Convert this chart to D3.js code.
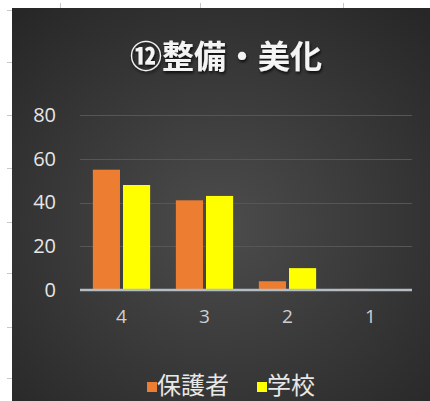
<!DOCTYPE html>
<html><head><meta charset="utf-8">
<script src="https://cdn.jsdelivr.net/npm/d3@7"></script>
<style>html,body{margin:0;padding:0;background:#fff;}svg{display:block;}</style>
</head><body>
<script>
const categories = ["4", "3", "2", "1"];
const seriesNames = ["保護者", "学校"];
const parents = [55, 41, 4, 0.5];
const school = [48, 43, 10, 0];
const yTicks = [0, 20, 40, 60, 80];
const titleText = "⑫整備・美化";
const colors = ["#ED7D31", "#FFFF00"];

const W = 430, H = 401;
const svg = d3.select("body").append("svg").attr("width", W).attr("height", H);
const defs = svg.append("defs");
const rg = defs.append("radialGradient").attr("id", "bg").attr("cx", "50%").attr("cy", "55%").attr("r", "72%");
rg.append("stop").attr("offset", "0%").attr("stop-color", "#4c4c4c");
rg.append("stop").attr("offset", "100%").attr("stop-color", "#272727");
const sh = defs.append("filter").attr("id", "sh").attr("x", "-10%").attr("y", "-20%").attr("width", "120%").attr("height", "150%");
sh.append("feDropShadow").attr("dx", 1).attr("dy", 2).attr("stdDeviation", 1.5).attr("flood-color", "#000").attr("flood-opacity", 0.8);

// spreadsheet cell tick marks
const g0 = svg.append("g").attr("stroke", "#c8c8c8").attr("stroke-width", 1);
[10, 62, 115, 168, 222, 273, 327, 378].forEach(y => g0.append("line").attr("x1", 7).attr("x2", 12).attr("y1", y + 0.5).attr("y2", y + 0.5));
[60, 200, 343].forEach(x => g0.append("line").attr("x1", x + 0.5).attr("x2", x + 0.5).attr("y1", 3).attr("y2", 8));

svg.append("rect").attr("x", 12).attr("y", 8).attr("width", W - 12).attr("height", H - 8).attr("fill", "url(#bg)");

const x = d3.scaleBand().domain(categories).range([80, 412]).paddingInner(0.31).paddingOuter(0.155);
const xs = d3.scaleBand().domain(seriesNames).range([0, x.bandwidth()]).paddingInner(0.1);
const y = d3.scaleLinear().domain([0, 80]).range([290, 115]);

// gridlines
svg.append("g").selectAll("line").data(yTicks.filter(d => d > 0)).join("line")
  .attr("x1", 80).attr("x2", 412).attr("y1", d => Math.round(y(d)) + 0.5).attr("y2", d => Math.round(y(d)) + 0.5)
  .attr("stroke", "#565656").attr("stroke-width", 1);

const data = categories.map((c, i) => ({ c, vals: [parents[i], school[i]] }));
const gb = svg.append("g");
data.forEach(d => {
  d.vals.forEach((v, j) => {
    if (v <= 0) return;
    gb.append("rect").attr("x", x(d.c) + xs(seriesNames[j])).attr("width", xs.bandwidth())
      .attr("y", y(v)).attr("height", y(0) - y(v)).attr("fill", colors[j]);
  });
});

// axis line
svg.append("line").attr("x1", 80).attr("x2", 412).attr("y1", y(0)).attr("y2", y(0))
  .attr("stroke", "#b4bcc4").attr("stroke-width", 2.5);

// y axis
const yAxis = d3.axisLeft(y).tickValues(yTicks).tickSize(0).tickPadding(0);
const ya = svg.append("g").attr("transform", "translate(56,0)").call(yAxis);
ya.select(".domain").remove();
ya.selectAll("text").attr("fill", "#e6e6e6").attr("font-family", "'Open Sans', 'DejaVu Sans', sans-serif").attr("font-size", 20);

// x axis
const xAxis = d3.axisBottom(x).tickSize(0).tickPadding(0);
const xa = svg.append("g").attr("transform", "translate(0,309)").call(xAxis);
xa.select(".domain").remove();
xa.selectAll("text").attr("fill", "#cfcfcf").attr("font-family", "'Open Sans', 'DejaVu Sans', sans-serif").attr("font-size", 19);

// title
svg.append("text").attr("x", 226).attr("y", 68).attr("text-anchor", "middle")
  .attr("font-family", "'Noto Sans CJK JP', sans-serif").attr("font-weight", "bold").attr("font-size", 32)
  .attr("fill", "#f4f4f4").attr("filter", "url(#sh)").text(titleText);

// legend
const lg = svg.append("g");
const legendItems = [{ name: seriesNames[0], x: 147, c: colors[0] }, { name: seriesNames[1], x: 257, c: colors[1] }];
legendItems.forEach(it => {
  lg.append("rect").attr("x", it.x).attr("y", 382).attr("width", 10).attr("height", 10).attr("fill", it.c);
  lg.append("text").attr("x", it.x + 10).attr("y", 394).attr("fill", "#e8e8e8")
    .attr("font-family", "'Noto Sans CJK JP', sans-serif").attr("font-size", 24).text(it.name);
});
</script>
</body></html>
